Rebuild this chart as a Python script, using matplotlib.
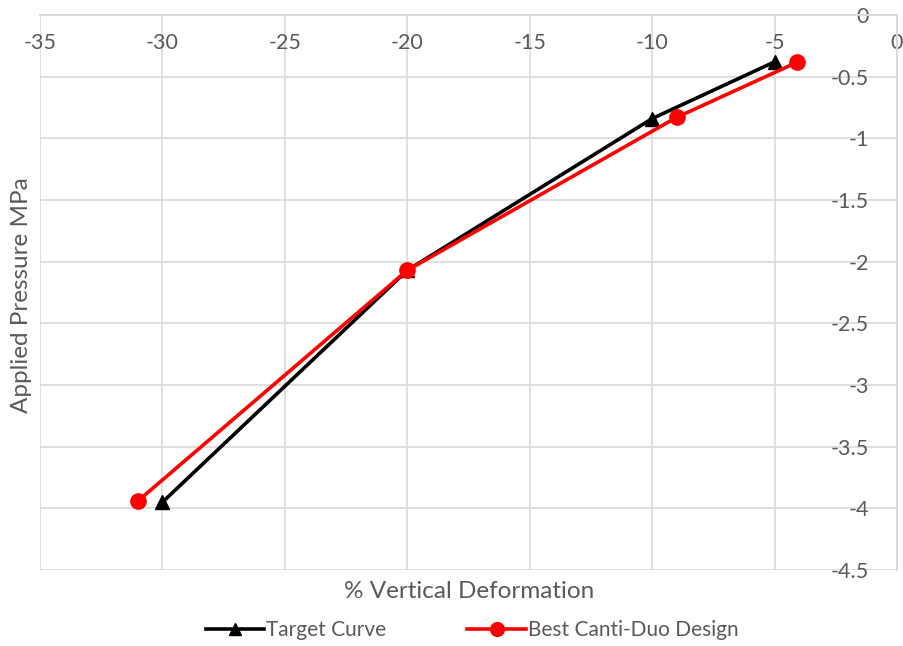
import matplotlib
matplotlib.use("Agg")
import matplotlib.pyplot as plt

# data
target_x = [-30, -20, -10, -5]
target_y = [-3.95, -2.07, -0.84, -0.38]
canti_x = [-31, -20, -9, -4.1]
canti_y = [-3.94, -2.07, -0.83, -0.385]

GRID = "#d9d9d9"
TXT = "#595959"
plt.rcParams["font.family"] = ["Lato", "DejaVu Sans"]
plt.rcParams["axes.unicode_minus"] = False

fig = plt.figure(figsize=(9.04, 6.46), dpi=100)
ax = fig.add_axes([40 / 904, 1 - 570 / 646, 857 / 904, 555 / 646])

ax.plot(target_x, target_y, color="black", lw=2.6, marker="^", ms=10,
        label="Target Curve")
ax.plot(canti_x, canti_y, color="#ff0000", lw=2.6, marker="o", ms=11,
        label="Best Canti-Duo Design")

ax.set_xlim(-35, 0)
ax.set_ylim(-4.5, 0)
ax.set_xticks(range(-35, 1, 5))
ax.set_yticks([-4.5, -4, -3.5, -3, -2.5, -2, -1.5, -1, -0.5, 0])
ax.set_yticklabels(["-4.5", "-4", "-3.5", "-3", "-2.5", "-2", "-1.5", "-1",
                    "-0.5", "0"])

# axes cross at the origin: x labels hang under the top, y labels sit left of the right edge
ax.spines["bottom"].set_position(("data", 0))
ax.spines["left"].set_position(("data", 0))
for s in ax.spines.values():
    s.set_color(GRID)
    s.set_linewidth(1.2)
ax.tick_params(axis="both", length=0, labelsize=15.5, labelcolor=TXT)
ax.tick_params(axis="x", pad=13)
ax.tick_params(axis="y", pad=20)
for lab in ax.get_xticklabels():
    lab.set_clip_on(False)

ax.grid(True, color=GRID, lw=1.2)
ax.set_axisbelow(True)

fig.text(469 / 904, 1 - 592 / 646, "% Vertical Deformation", fontsize=17.5,
         color=TXT, ha="center", va="center")
fig.text(22 / 904, 1 - 295 / 646, "Applied Pressure MPa", fontsize=17.5,
         color=TXT, ha="center", va="center", rotation=90)

fig.legend(loc="center", bbox_to_anchor=(472 / 904, 1 - 630 / 646), ncol=2,
           frameon=False, fontsize=15, labelcolor=TXT, handlelength=2.8,
           handletextpad=0.1, columnspacing=3.9, markerscale=0.9)

fig.savefig("out.png", dpi=100)
